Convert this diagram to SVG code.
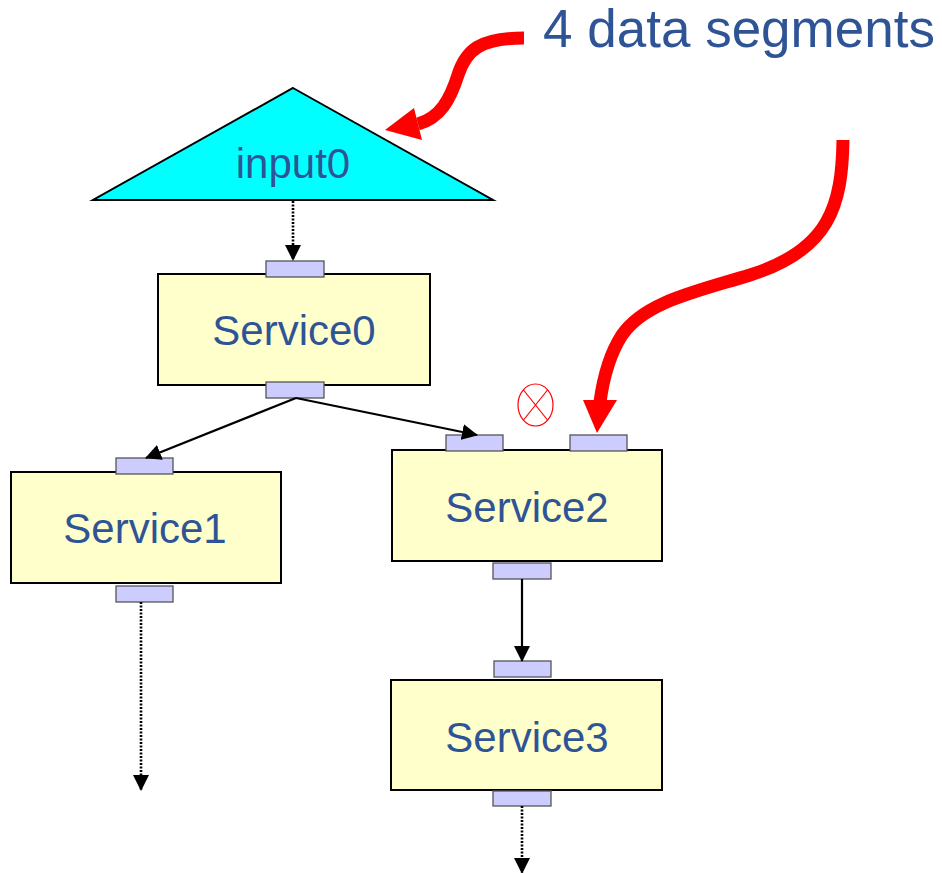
<svg xmlns="http://www.w3.org/2000/svg" width="942" height="873" viewBox="0 0 942 873">
  <style>
    .box { fill: #FFFFCC; stroke: #000; stroke-width: 2; }
    .port { fill: #CCCCFF; stroke: #555; stroke-width: 1.3; }
    .lbl { font-family: "Liberation Sans", Arial, sans-serif; font-size: 42px; fill: #2F5496; text-anchor: middle; }
    .flow { stroke: #000; stroke-width: 2.2; fill: none; marker-end: url(#ah); }
    .dots { stroke-dasharray: 2 1.5; stroke-width: 2.6; }
    .hint { stroke: #FF0000; stroke-width: 13; fill: none; }
  </style>
  <defs>
    <marker id="ah" markerUnits="userSpaceOnUse" markerWidth="16" markerHeight="16" viewBox="0 0 16 16" refX="15" refY="8" orient="auto">
      <path d="M0 0 L16 8 L0 16 Z" fill="#000"/>
    </marker>
  </defs>

  <!-- input source -->
  <g id="input0">
    <polygon points="293,88 493,200 93,200" fill="#00FFFF" stroke="#000" stroke-width="2"/>
    <text class="lbl" x="293" y="178">input0</text>
  </g>

  <g id="service0">
    <rect class="box" x="158" y="274" width="272" height="111"/>
    <rect class="port" x="266" y="261" width="58" height="16"/>
    <rect class="port" x="266" y="382" width="58" height="16"/>
    <text class="lbl" x="294" y="345">Service0</text>
  </g>

  <g id="service1">
    <rect class="box" x="11" y="472" width="270" height="111"/>
    <rect class="port" x="116" y="458" width="57" height="16"/>
    <rect class="port" x="116" y="586" width="57" height="16"/>
    <text class="lbl" x="145" y="543">Service1</text>
  </g>

  <g id="service2">
    <rect class="box" x="392" y="450" width="270" height="111"/>
    <rect class="port" x="446" y="435" width="57" height="16"/>
    <rect class="port" x="570" y="435" width="57" height="16"/>
    <rect class="port" x="493" y="563" width="58" height="16"/>
    <text class="lbl" x="527" y="522">Service2</text>
  </g>

  <g id="service3">
    <rect class="box" x="391" y="680" width="271" height="110"/>
    <rect class="port" x="494" y="661" width="57" height="16"/>
    <rect class="port" x="493" y="791" width="58" height="15"/>
    <text class="lbl" x="527" y="752">Service3</text>
  </g>

  <!-- blocked input marker -->
  <g id="blocked">
    <ellipse cx="535.5" cy="405" rx="17.5" ry="21" fill="none" stroke="#FF0000" stroke-width="1.2"/>
    <line x1="523.5" y1="390" x2="547.5" y2="420" stroke="#FF0000" stroke-width="1.2"/>
    <line x1="547.5" y1="390" x2="523.5" y2="420" stroke="#FF0000" stroke-width="1.2"/>
  </g>

  <g id="connectors">
    <line class="flow dots" x1="293" y1="201" x2="293" y2="260"/>
    <line class="flow" x1="296" y1="398" x2="146" y2="458"/>
    <line class="flow" x1="296" y1="398" x2="477" y2="435"/>
    <line class="flow" x1="522" y1="579" x2="522" y2="661"/>
    <line class="flow dots" x1="141" y1="602" x2="141" y2="790"/>
    <line class="flow dots" x1="522" y1="806" x2="522" y2="873"/>
  </g>

  <!-- annotation -->
  <g id="annotation">
    <text x="739" y="47" font-family="Liberation Sans, Arial, sans-serif" font-size="53" fill="#2F5496" text-anchor="middle">4 data segments</text>
    <path class="hint" d="M524 38 C480 38 466 50 458 75 C450 100 440 118 418 124"/>
    <polygon points="385,130 414,108 422,140" fill="#FF0000"/>
    <path class="hint" d="M843 140 C842 205 830 250 750 275 C695 292 645 302 622 335 C609 355 603 380 600 402"/>
    <polygon points="583,400 617,400 597,433" fill="#FF0000"/>
  </g>
</svg>
